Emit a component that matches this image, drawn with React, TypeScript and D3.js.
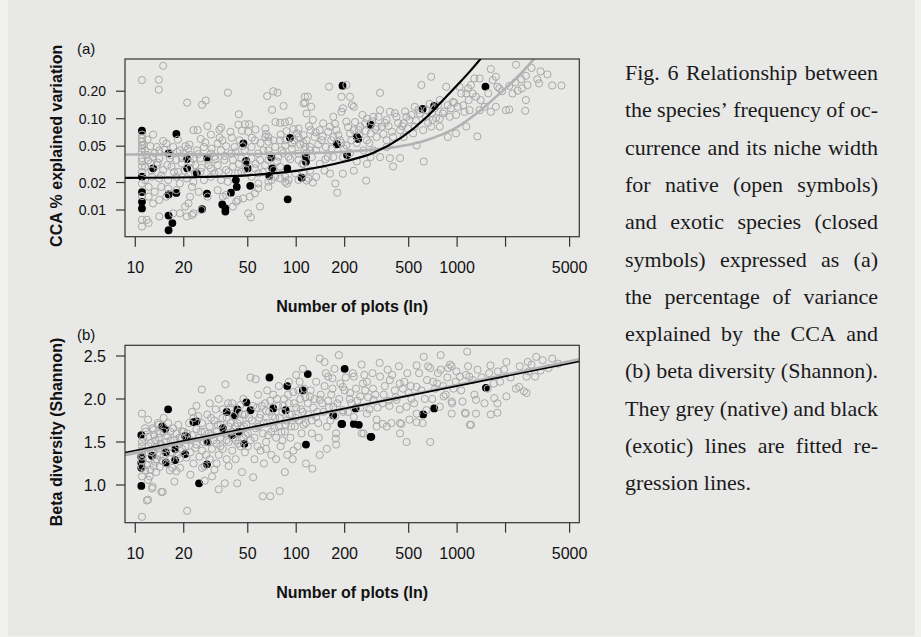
import React, { useMemo } from "react";
import * as d3 from "d3";

type P = [number, number];

// ---------- axis ticks ----------
const xTicks = [10, 20, 50, 100, 200, 500, 1000, 2000, 5000];
const xTickLabels = ["10", "20", "50", "100", "200", "500", "1000", "", "5000"];
const yTicksA = [0.01, 0.02, 0.05, 0.1, 0.2];
const yTickLabelsA = ["0.01", "0.02", "0.05", "0.10", "0.20"];
const yTicksB = [1.0, 1.5, 2.0, 2.5];
const yTickLabelsB = ["1.0", "1.5", "2.0", "2.5"];

// ---------- panel (a): CCA % explained variation ----------
const nativeA: P[] = [
  [14.9,0.38],[11,0.265],[14,0.267],[14,0.208],[21,0.15],[26,0.142],[27.4,0.158],[37.6,0.193],[44,0.112],[66,0.177],[72,0.2],[76.5,0.193],[70.8,0.125],[83.4,0.138],[118,0.175],[113.5,0.15],
  [28.1,0.083],[23,0.075],[24.4,0.075],[33.3,0.076],[34.1,0.08],[39,0.072],[12.9,0.067],[11.9,0.059],[14.9,0.057],[18.4,0.059],[20.5,0.05],[21.7,0.052],[25.5,0.06],[29.5,0.067],[33.4,0.062],[43.7,0.086],[48.1,0.087],[51,0.087],[46,0.074],[50.3,0.072],[55.9,0.076],[55.4,0.058],[64.4,0.078],[67.2,0.063],[74.3,0.092],[79.5,0.09],[85,0.091],[90.5,0.094],[96.2,0.077],[103.4,0.063],[111,0.066],[123,0.075],[103.4,0.078],[79.5,0.058],[85.8,0.058],[94.5,0.0535],[64.1,0.063],[67.2,0.056],
  [11.3,0.052],[12.4,0.05],[13.6,0.049],[14.1,0.045],[15.6,0.0535],[17.2,0.049],[18.9,0.045],[19.9,0.0416],[21.9,0.04],[24.2,0.045],[26.7,0.049],[29.5,0.0416],[32.5,0.0535],[34.1,0.045],[36.7,0.05],[39.4,0.0416],[41.4,0.049],[44.5,0.058],[47.9,0.045],[52.8,0.049],[58.1,0.0416],[62.6,0.045],[67.2,0.045],[74,0.049],[81.4,0.045],[85.4,0.051],[94,0.047],[103.4,0.0416],[113.5,0.049],[121.9,0.045],
  [11.8,0.04],[12.9,0.0384],[14.1,0.0368],[16.4,0.0368],[18,0.0353],[23,0.0368],[25.4,0.0368],[28.1,0.0353],[31,0.0384],[35.8,0.0353],[40.4,0.0353],[45.6,0.0368],[52.8,0.0368],[59.6,0.0353],[67.2,0.0353],[77.6,0.0384],[89.6,0.0384],[103.4,0.0353],
  [11.5,0.0298],[12.4,0.0324],[13.6,0.031],[14.9,0.0274],[16.8,0.0298],[18.5,0.0262],[19.4,0.0324],[21.9,0.0286],[23.6,0.031],[25.4,0.0262],[29.5,0.0286],[31,0.0252],[32.5,0.031],[36.7,0.0274],[40.4,0.0298],[45.6,0.0262],[49.1,0.0324],[55.4,0.0286],[58.1,0.0252],[64.1,0.031],[72.2,0.0274],[79.5,0.0298],[85.4,0.0231],[89.6,0.0213],[98.6,0.0252],[111,0.0262],[119,0.0222],
  [11.5,0.0213],[12.7,0.0231],[14.1,0.0222],[16,0.0213],[18,0.0231],[20.9,0.0222],[23,0.0204],[26.7,0.0213],[29.5,0.0231],[34.1,0.0213],[37.6,0.0204],[43.5,0.0252],[52.8,0.0231],[58.1,0.0195],[67.2,0.0204],[74,0.0231],[85.4,0.0204],[103.4,0.0213],
  [12.1,0.0179],[13.2,0.0158],[12.1,0.014],[12.9,0.0118],[14.5,0.0179],[14.1,0.0129],[15.6,0.014],[18,0.0165],[18.9,0.0195],[22.5,0.0179],[24.8,0.0158],[21.9,0.014],[21.4,0.0118],[20.4,0.0109],[23,0.0092],[18.9,0.0092],[16,0.0172],[28.1,0.014],[32.5,0.0165],[36.7,0.0146],[42.4,0.0123],[46.8,0.0134],[58.1,0.0172],[55.4,0.0152],[59.6,0.0109],[50.3,0.0092],[52.3,0.0083],[67.2,0.0179],[70.5,0.0213],[79.5,0.0222],[87.5,0.0195],
  [11.8,0.0078],[12.1,0.0072],[11,0.0066],[14.1,0.0085],[20.9,0.0085],[17.2,0.0092],[22.5,0.0088],[25.8,0.01],[35,0.014],[40.4,0.0109],[43.5,0.0129],[51.5,0.014],
  [11,0.067],[11,0.061],[11,0.056],[11,0.051],[11,0.047],[11,0.043],[11,0.037],[11,0.034],[11,0.03],[11,0.026],[11,0.0195],[11,0.0142],[11,0.0078],
  [11.5,0.045],[12,0.035],[12.6,0.027],[13.2,0.042],[13.8,0.033],[14.5,0.024],[15.2,0.046],[15.8,0.031],[16.6,0.04],[17.4,0.026],[18.2,0.043],[19.5,0.037],[20.2,0.027],[21.3,0.047],[22.1,0.033],[23.5,0.025],[24.6,0.041],[25.8,0.029],[27.2,0.055],[28.6,0.031],[29.8,0.047],[31.5,0.036],[33,0.026],[34.8,0.058],[36,0.039],[38,0.026],[39.8,0.062],[42,0.043],[44,0.032],[46.5,0.05],[48.5,0.028],[53,0.062],[56,0.032],[60,0.054],[62,0.026],[65,0.068],[69,0.04],[72,0.058],[76,0.034],[80,0.067],[83,0.042],[87,0.073],[92,0.036],[97,0.058],[101,0.069],[106,0.052],[109,0.032],[116,0.058],[120,0.083],
  [2320,0.39],[2675,0.295],[3640,0.306],[3150,0.27],[3230,0.244],[3900,0.231],[4450,0.231],[2740,0.234],[2530,0.215],[2380,0.203],[2210,0.189],[2110,0.229],[1830,0.215],[1740,0.288],[1620,0.35],[1665,0.265],[1780,0.224],[1380,0.276],[1280,0.276],[1220,0.234],[1170,0.215],[1140,0.189],[1250,0.189],[1310,0.174],[1035,0.224],[1060,0.189],[940,0.153],[1010,0.135],[855,0.224],[690,0.288],[600,0.234],[780,0.16],[675,0.145],[725,0.13],
  [2675,0.16],[2650,0.122],[2110,0.126],[2010,0.124],[1740,0.135],[1620,0.119],[1480,0.135],[1380,0.124],[1195,0.124],[1110,0.119],[985,0.11],[915,0.13],[875,0.141],[815,0.114],[780,0.1],[705,0.097],[645,0.124],[585,0.114],[545,0.135],[505,0.097],[465,0.089],[442,0.075],[420,0.105],[382,0.119],[365,0.097],[340,0.082],[332,0.124],[332,0.192],[302,0.105],[275,0.1],[268,0.089],[250,0.082],[228,0.075],[216,0.069],[205,0.093],[195,0.13],[191,0.119],[191,0.174],[216,0.174],[222,0.141],[228,0.135],[170,0.105],[160,0.224],[205,0.234],
  [178,0.075],[162,0.082],[147,0.089],[140,0.075],[127,0.097],[124,0.135],[113,0.174],[111,0.147],[116,0.114],[130,0.063],[144,0.058],[153,0.049],[170,0.063],[187,0.058],[205,0.051],[238,0.054],[275,0.058],[316,0.063],[365,0.058],[400,0.063],[465,0.063],[533,0.069],[615,0.075],[690,0.082],[780,0.082],[875,0.063],[1335,0.064],[985,0.069],[1140,0.082],
  [365,0.049],[302,0.045],[332,0.038],[382,0.037],[442,0.037],[560,0.051],[620,0.034],[400,0.03],[275,0.032],[272,0.021],[228,0.027],[195,0.025],[175,0.0195],[180,0.0155],[162,0.025],[150,0.027],[127,0.02],[116,0.021],[122,0.027],[133,0.023],[140,0.032],[157,0.038],[111,0.032],[116,0.042],[111,0.054],[122,0.049],[133,0.045],[170,0.038],[195,0.038],[216,0.042],[262,0.045],[238,0.034],[290,0.038],[191,0.054],[165,0.058],[244,0.075],[290,0.069],[316,0.082],[545,0.082],[485,0.105],
  [125,0.038],[132,0.071],[137,0.052],[146,0.064],[152,0.036],[158,0.072],[166,0.047],[174,0.088],[183,0.066],[198,0.047],[210,0.081],[220,0.058],[232,0.092],[247,0.066],[258,0.11],[270,0.073],[285,0.054],[296,0.094],[310,0.077],[325,0.105],[348,0.068],[356,0.09],[375,0.083],[393,0.072],[410,0.115],[430,0.09],[455,0.083],[475,0.12],[495,0.078],[520,0.11],[555,0.095],[575,0.125],[640,0.105],[660,0.09],[700,0.115],[740,0.102],[760,0.14],[830,0.12],[900,0.105],[960,0.15],[1090,0.14],[1180,0.16],[1400,0.16],[1560,0.19],[1900,0.2],[2300,0.25],[2500,0.27],[3300,0.33],[2900,0.36],
];

const exoticA: P[] = [
  [11,0.074],[11,0.0232],[11,0.0157],[11,0.0123],[11,0.0104],[12.9,0.0286],[16.1,0.0418],[16.1,0.0148],[16.1,0.0087],[17,0.0072],[16.1,0.006],[18,0.068],[18,0.0154],[21,0.0362],[21,0.0286],[24.1,0.0252],[27.9,0.0377],[27.9,0.0151],[26,0.0102],[36.3,0.0104],[36.3,0.0096],[34.7,0.0115],[39.3,0.0155],[42.2,0.0213],[42.7,0.0179],[48.8,0.0345],[51.8,0.0184],[50,0.0286],[47,0.0536],[70,0.0377],[71,0.0286],[68,0.0237],[88,0.0286],[88.5,0.0131],[91.5,0.0617],[108,0.0226],[115,0.0384],[115,0.0338],[179,0.0525],[207,0.04],[194,0.23],[238,0.0635],[243,0.06],[290,0.0859],[610,0.128],[720,0.138],[1500,0.225],
];

const nativeLineA: P[] = [[8.6,0.0405],[25,0.0407],[50,0.041],[100,0.0418],[200,0.0435],[400,0.0485],[600,0.056],[800,0.067],[1000,0.081],[1300,0.112],[1600,0.152],[2000,0.215],[2500,0.315],[3100,0.48]];
const exoticLineA: P[] = [[8.6,0.0225],[25,0.023],[50,0.024],[100,0.0268],[200,0.034],[300,0.042],[450,0.062],[650,0.105],[850,0.172],[1000,0.232],[1200,0.33],[1440,0.48]];

// ---------- panel (b): beta diversity (Shannon) ----------
const nativeB: P[] = [
  [11,1.83],[12,1.76],[11.5,1.66],[12.8,1.66],[13,1.64],[14.2,1.6],[12,1.56],[13.3,1.52],[14.6,1.46],[11,1.45],[12.5,1.49],[14.2,1.35],[13.3,1.27],[14.2,1.21],[15.6,1.25],[16.4,1.17],[12.3,1.1],[12,1.06],[12.8,0.98],[14.8,0.92],[12,0.83],[11,0.63],[11.5,1.17],[11,1.21],[11,1.33],[11,1.1],[11,1.4],[11,1.5],[11,1.28],[11,1.37],[12.2,1.31],[12.9,1.4],[13.5,1.44],[14,1.55],[15,1.62],[15.5,1.5],[16,1.43],[17,1.38],[17.5,1.52],[18,1.6],[18.5,1.47],[19,1.31],[19.5,1.55],[16.5,1.3],[17,1.2],[18,1.16],[15,1.34],[14,1.7],[16,1.72],[17.5,1.04],[19,1.2],[13.5,1.15],[13,1.22],[16.5,1.62],[18.5,1.7],[15,1.78],[19.5,1.42],[20,1.62],[11.8,1.23],[11.8,0.82],[12.7,0.96],[14.5,0.92],
  [11.2,1.55],[11.6,1.62],[12.1,1.45],[12.6,1.38],[13.1,1.58],[13.6,1.3],[14.3,1.48],[15.2,1.42],[15.8,1.57],[16.6,1.52],[17.2,1.66],[18.2,1.35],[18.8,1.55],[19.6,1.62],[13.8,1.72],[14.8,1.28],[12.4,1.18],
  [21,0.7],[20.5,1.45],[21,1.6],[22,1.52],[22,1.38],[23,1.25],[22,1.12],[23,1.78],[24,1.65],[24,1.47],[25,1.33],[25,1.55],[26,1.72],[26,1.4],[27,1.22],[27,1.62],[28,1.5],[28,1.82],[29,1.3],[29,1.68],[30,1.58],[30,1.42],[31,1.18],[31,1.75],[32,1.62],[32,1.48],[33,0.95],[33,1.35],[34,1.7],[34,1.55],[35,1.88],[35,1.42],[36,1.02],[36,1.6],[37,1.78],[37,1.3],[38,1.5],[38,1.68],[39,1.9],[40,1.4],[40,1.62],[41,1.8],[42,1.52],[42,1.3],[43,1.72],[43,1.02],[44,1.6],[45,1.93],[45,1.45],[46,1.66],[47,1.55],[48,1.82],[48,1.38],[49,1.7],[50,1.6],[50,1.45],[25.9,2.11],[36.3,2.17],[24,1.92],[29,1.95],[33,2.0],[22.5,1.85],[27,1.05],[30,1.1],[38,1.22],[46,1.15],[26,1.2],[32,1.25],[40,1.95],[44,1.85],[47,2.0],
  [20.8,1.32],[21.6,1.72],[22.6,1.58],[23.6,1.43],[24.6,1.8],[25.6,1.62],[26.6,1.5],[27.6,1.35],[28.6,1.6],[29.6,1.78],[30.6,1.52],[31.6,1.88],[32.6,1.7],[33.8,1.45],[34.8,1.78],[36.8,1.52],[37.8,1.95],[39.2,1.72],[40.6,1.55],[41.8,1.68],[43.6,1.48],[44.6,1.76],[46.2,1.82],[47.4,1.68],[48.6,1.58],[51,1.78],[52,1.52],[54,1.92],[56,1.66],[57.5,1.45],[59,1.78],
  [52,2.25],[56,2.23],[54,1.09],[62,0.87],[69,0.87],[79,0.93],[53,1.75],[55,1.55],[57,1.9],[58,1.68],[60,1.4],[60,1.82],[62,1.6],[64,1.95],[65,1.5],[66,1.72],[68,1.85],[70,1.35],[70,1.62],[72,2.05],[74,1.78],[75,1.55],[77,1.92],[78,1.68],[80,1.45],[82,1.85],[84,2.0],[85,1.62],[87,1.75],[88,1.35],[90,1.95],[92,1.55],[94,1.82],[96,2.08],[98,1.68],[100,1.9],[102,1.45],[104,1.75],[106,2.0],[108,1.6],[110,1.85],[112,2.12],[115,1.25],[115,1.72],[126,1.19],[140,1.35],[118,1.95],[55,1.3],[63,1.25],[75,1.3],[85,1.15],[95,1.3],[58,2.05],[66,2.1],[78,2.15],[90,2.2],[100,2.28],[110,2.35],[65,1.42],[82,1.52],[96,1.4],[105,2.2],
  [61,1.92],[63,1.72],[65,1.86],[67,1.58],[69,1.98],[71,1.8],[73,1.66],[76,2.0],[79,1.78],[81,1.62],[83,1.92],[86,1.7],[89,2.05],[91,1.82],[93,1.68],[97,1.95],[99,1.78],[103,2.1],[107,1.88],[111,1.7],[114,2.02],[119,1.82],[123,2.1],[128,1.9],[133,2.2],[137,1.72],[142,2.05],[148,1.85],[153,2.3],[158,1.98],[163,1.75],[168,2.12],[173,2.35],[180,1.95],[188,2.18],[196,1.85],[203,2.25],
  [1155,2.55],[790,2.51],[620,2.49],[560,2.39],[680,2.36],[790,2.34],[880,2.36],[905,2.4],[925,2.38],[990,2.32],[1040,2.26],[1135,2.28],[1190,2.26],[1250,2.22],[1340,2.34],[1610,2.39],[2025,2.43],[1960,2.34],[1790,2.32],[2750,2.43],[3100,2.49],[3400,2.45],[3050,2.26],[3700,2.36],[4250,2.41],[2780,2.32],[2700,2.26],[2430,2.14],[2320,2.12],[2600,2.09],[2700,2.07],[2025,2.03],[1780,1.95],[1700,2.01],[1550,2.12],[1690,2.18],[1620,1.82],[1780,1.84],[1310,1.83],[1220,1.7],[1120,1.84],[1310,1.99],[1080,1.97],[925,1.97],[825,2.03],[730,2.12],[650,2.22],[560,2.14],[500,2.07],[440,2.18],[382,2.22],[370,2.34],[332,2.26],[275,2.2],[265,2.28],[228,2.26],[184,2.51],[140,2.47],[150,2.43],[158,2.26],[168,2.24],[195,2.14],[216,2.07],[250,2.03],[302,1.99],[345,1.95],[420,1.99],[485,1.91],[560,1.83],[645,1.87],[780,1.91],[925,1.83],[1130,1.83],[505,1.76],[442,1.72],[365,1.68],[316,1.76],[275,1.83],[228,1.79],[195,1.87],[170,1.91],[140,1.99],[122,2.03],[133,1.79],[155,1.68],[177,1.6],[442,1.6],[316,1.68],[262,1.6],
  [176,1.54],[177,1.47],[485,1.5],[680,1.5],[1200,1.7],[610,1.72],[450,1.71],[560,1.73],[390,1.72],[345,1.71],[255,1.6],[125,1.75],[130,2.0],[135,1.85],[145,1.95],[150,2.15],[160,1.9],[165,2.05],[175,1.8],[185,2.0],[200,2.1],[210,1.85],[220,1.95],[235,2.12],[250,1.9],[260,2.18],[280,2.02],[300,2.12],[320,1.9],[350,2.05],[380,1.92],[410,2.1],[440,1.88],[470,2.2],[520,2.0],[600,2.1],[700,2.0],[750,2.18],[850,2.05],[950,2.12],[125,1.6],[138,1.55],[155,1.42],
  [215,2.0],[225,2.3],[240,1.98],[255,2.4],[268,2.1],[285,1.88],[298,2.3],[310,2.05],[330,2.42],[355,2.15],[375,1.98],[395,2.28],[415,2.02],[435,2.38],[460,2.12],[490,2.3],[515,2.15],[540,1.95],[580,2.3],[630,2.0],[660,2.38],[710,2.2],[760,2.3],[820,2.15],[870,2.25],[930,1.95],[980,2.2],
  [1060,2.1],[1170,2.38],[1280,2.05],[1420,2.25],[1480,1.95],[1580,2.3],[1850,2.2],[2150,2.25],[2450,2.38],[2900,2.4],[3300,2.33],[3900,2.47],
];

const exoticB: P[] = [
  [10.9,0.99],[10.9,1.58],[10.9,1.33],[10.9,1.26],[10.9,1.2],[12.7,1.34],[14.7,1.68],[15.3,1.65],[15.5,1.38],[15.5,1.26],[17.7,1.42],[17.7,1.29],[20.4,1.57],[20.4,1.36],[23,1.73],[24.9,1.02],[27.9,1.24],[28.1,1.5],[40,1.58],[47.6,1.48],[115,1.47],[193,1.71],[228,1.71],[293,1.56],[16,1.88],[49,1.96],[68.2,2.25],[88,2.15],[110,2.1],[24,1.74],[37,1.85],[43,1.88],[41.6,1.81],[72,1.89],[86,1.87],[21,1.56],[118,2.29],[200,2.35],[170,1.81],[191,1.71],[234,1.89],[245,1.7],[290,1.56],[615,1.82],[720,1.89],[1510,2.13],[35,1.66],[44,1.62],[52,1.87],
];

const nativeLineB: P[] = [[8.63,1.349],[5745,2.459]];
const exoticLineB: P[] = [[8.63,1.378],[5745,2.436]];

// ---------- caption ----------
const captionLines = [
  "Fig. 6 Relationship between",
  "the species\u2019 frequency of oc-",
  "currence and its niche width",
  "for native (open symbols)",
  "and exotic species (closed",
  "symbols) expressed as (a)",
  "the percentage of variance",
  "explained by the CCA and",
  "(b) beta diversity (Shannon).",
  "They grey (native) and black",
  "(exotic) lines are fitted re-",
  "gression lines.",
];

const SANS = '"Liberation Sans", Arial, Helvetica, sans-serif';
const SERIF = '"Liberation Serif", "Times New Roman", serif';
const GREY = "#a8a8a8";

const x = d3.scaleLog().domain([8.63, 5745]).range([125, 579.3]);
const LEFT = 125, RIGHT = 579.3;

function Panel(props: {
  id: string;
  y: any;
  top: number;
  bottom: number;
  yTicks: number[];
  yLabels: string[];
  ySize: number;
  native: P[];
  exotic: P[];
  nLine: P[];
  eLine: P[];
  nLineW: number;
  eLineW: number;
  letter: string;
  yTitle: string;
  curved: boolean;
}) {
  const { id, y, top, bottom } = props;
  const line = d3
    .line<P>()
    .x((d) => x(d[0]))
    .y((d) => y(d[1]))
    .curve(props.curved ? d3.curveMonotoneX : d3.curveLinear);
  const midY = (top + bottom) / 2;
  return (
    <g>
      <defs>
        <clipPath id={id}>
          <rect x={LEFT} y={top} width={RIGHT - LEFT} height={bottom - top} />
        </clipPath>
      </defs>
      <g clipPath={`url(#${id})`}>
        {props.exotic.map((d, i) => (
          <circle key={"e" + i} cx={x(d[0])} cy={y(d[1])} r={3.9} fill="#000" />
        ))}
        {props.native.map((d, i) => (
          <circle key={"n" + i} cx={x(d[0])} cy={y(d[1])} r={3.6} fill="none" stroke={GREY} strokeWidth={1} />
        ))}
        <path d={line(props.nLine) || ""} fill="none" stroke="#b2b2b2" strokeWidth={props.nLineW} />
        <path d={line(props.eLine) || ""} fill="none" stroke="#000" strokeWidth={props.eLineW} />
      </g>
      <rect x={LEFT} y={top} width={RIGHT - LEFT} height={bottom - top} fill="none" stroke="#333" strokeWidth={1.2} />
      {xTicks.map((t, i) => (
        <g key={"xt" + i}>
          <line x1={x(t)} x2={x(t)} y1={bottom} y2={bottom + 10} stroke="#333" strokeWidth={1.2} />
          {xTickLabels[i] && (
            <text x={x(t)} y={bottom + 36} textAnchor="middle" fontFamily={SANS} fontSize={16} fill="#111">
              {xTickLabels[i]}
            </text>
          )}
        </g>
      ))}
      <text x={(LEFT + RIGHT) / 2} y={bottom + 75} textAnchor="middle" fontFamily={SANS} fontWeight="bold" fontSize={16} fill="#111">
        Number of plots (ln)
      </text>
      {props.yTicks.map((t, i) => (
        <g key={"yt" + i}>
          <line x1={LEFT - 9} x2={LEFT} y1={y(t)} y2={y(t)} stroke="#333" strokeWidth={1.2} />
          <text x={106} y={y(t)} dy="0.36em" textAnchor="end" fontFamily={SANS} fontSize={props.ySize} fill="#111">
            {props.yLabels[i]}
          </text>
        </g>
      ))}
      <text
        transform={`translate(56,${midY - 2}) rotate(-90)`}
        textAnchor="middle"
        dy="0.36em"
        fontFamily={SANS}
        fontWeight="bold"
        fontSize={16}
        fill="#111"
      >
        {props.yTitle}
      </text>
      <text x={77} y={top - 5} fontFamily={SANS} fontSize={15} fill="#111">
        {props.letter}
      </text>
    </g>
  );
}

function Caption() {
  const ctx = useMemo(() => {
    const c = document.createElement("canvas");
    return c.getContext("2d");
  }, []);
  const size = 22;
  const left = 625, width = 253, y0 = 80, lh = 37.3;
  if (ctx) ctx.font = `${size}px "Liberation Serif"`;
  return (
    <g fontFamily={SERIF} fontSize={size} fill="#1a1a1a">
      {captionLines.map((ln, i) => {
        const yy = y0 + i * lh;
        const words = ln.split(" ");
        if (i === captionLines.length - 1 || !ctx || words.length < 2) {
          return (
            <text key={i} x={left} y={yy}>
              {ln}
            </text>
          );
        }
        const ws = words.map((w) => ctx.measureText(w).width);
        const total = ws.reduce((a, b) => a + b, 0);
        const gap = (width - total) / (words.length - 1);
        let cx = left;
        return (
          <g key={i}>
            {words.map((w, j) => {
              const el = (
                <text key={j} x={cx} y={yy}>
                  {w}
                </text>
              );
              cx += ws[j] + gap;
              return el;
            })}
          </g>
        );
      })}
    </g>
  );
}

export default function App() {
  const yA = d3.scaleLog().domain([0.0051, 0.451]).range([236.7, 59]);
  const yB = d3.scaleLinear().domain([0.562, 2.624]).range([522.7, 345.3]);
  return (
    <svg
      width={921}
      height={637}
      viewBox="0 0 921 637"
      style={{ position: "absolute", left: 0, top: 0, display: "block" }}
    >
      <rect x={0} y={0} width={921} height={637} fill="#f1f1f0" />
      <rect x={8} y={0} width={907} height={636} fill="#e8e8e6" />
      <Panel
        id="clipA"
        y={yA}
        top={59}
        bottom={236.7}
        yTicks={yTicksA}
        yLabels={yTickLabelsA}
        ySize={14}
        native={nativeA}
        exotic={exoticA}
        nLine={nativeLineA}
        eLine={exoticLineA}
        nLineW={2.6}
        eLineW={2.2}
        letter="(a)"
        yTitle="CCA % explained variation"
        curved={true}
      />
      <Panel
        id="clipB"
        y={yB}
        top={345.3}
        bottom={522.7}
        yTicks={yTicksB}
        yLabels={yTickLabelsB}
        ySize={16}
        native={nativeB}
        exotic={exoticB}
        nLine={nativeLineB}
        eLine={exoticLineB}
        nLineW={3}
        eLineW={1.6}
        letter="(b)"
        yTitle="Beta diversity (Shannon)"
        curved={false}
      />
      <Caption />
    </svg>
  );
}
